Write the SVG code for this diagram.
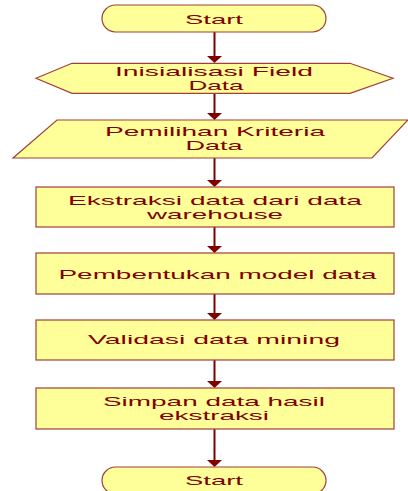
<svg xmlns="http://www.w3.org/2000/svg" width="408" height="491" viewBox="0 0 408 491">
<defs>
<style>
.shape{fill:#FFFF99;stroke:#A0403A;stroke-width:1.2}
.t{font-family:"Liberation Sans",Arial,sans-serif;font-size:13.5px;fill:#800000;text-anchor:middle}
.conn line{stroke:#800000;stroke-width:2}
.conn polygon{fill:#800000}
</style>
</defs>
<rect width="408" height="491" fill="#fff"/>
<g class="conn">
<line x1="214.5" y1="32" x2="214.5" y2="57"/><polygon points="207,56 222,56 214.5,63"/>
<line x1="214.5" y1="93" x2="214.5" y2="114"/><polygon points="207,113 222,113 214.5,120"/>
<line x1="214.5" y1="158" x2="214.5" y2="181"/><polygon points="207,180 222,180 214.5,187"/>
<line x1="214.5" y1="227" x2="214.5" y2="247"/><polygon points="207,246 222,246 214.5,253"/>
<line x1="214.5" y1="294" x2="214.5" y2="314"/><polygon points="207,313 222,313 214.5,320"/>
<line x1="214.5" y1="360" x2="214.5" y2="382"/><polygon points="207,381 222,381 214.5,388"/>
<line x1="214.5" y1="429" x2="214.5" y2="461"/><polygon points="207,460 222,460 214.5,467"/>
</g>
<g id="start">
<rect class="shape" x="102" y="5" width="224" height="27" rx="13.5"/>
<text class="t" x="214" y="23.5" textLength="58" lengthAdjust="spacingAndGlyphs">Start</text>
</g>
<g id="init">
<polygon class="shape" points="36,78.3 72,63.3 350,63.3 393,78.3 350,93.3 72,93.3"/>
<text class="t" x="214" y="76.4" textLength="198" lengthAdjust="spacingAndGlyphs">Inisialisasi Field</text>
<text class="t" x="216" y="90.3" textLength="55" lengthAdjust="spacingAndGlyphs">Data</text>
</g>
<g id="pemilihan">
<polygon class="shape" points="57,120 408,120 372,158 13,158"/>
<text class="t" x="215" y="136.4" textLength="220" lengthAdjust="spacingAndGlyphs">Pemilihan Kriteria</text>
<text class="t" x="214" y="150.3" textLength="57" lengthAdjust="spacingAndGlyphs">Data</text>
</g>
<g id="ekstraksi">
<rect class="shape" x="36" y="187" width="358" height="40"/>
<text class="t" x="215" y="204.7" textLength="294" lengthAdjust="spacingAndGlyphs">Ekstraksi data dari data</text>
<text class="t" x="215" y="218.6" textLength="136" lengthAdjust="spacingAndGlyphs">warehouse</text>
</g>
<g id="model">
<rect class="shape" x="36" y="253" width="358" height="41"/>
<text class="t" x="217.5" y="279" textLength="318" lengthAdjust="spacingAndGlyphs">Pembentukan model data</text>
</g>
<g id="validasi">
<rect class="shape" x="36" y="320" width="358" height="40"/>
<text class="t" x="214" y="344.3" textLength="252" lengthAdjust="spacingAndGlyphs">Validasi data mining</text>
</g>
<g id="simpan">
<rect class="shape" x="36" y="388" width="358" height="41"/>
<text class="t" x="214" y="405.7" textLength="222" lengthAdjust="spacingAndGlyphs">Simpan data hasil</text>
<text class="t" x="214" y="420.3" textLength="110" lengthAdjust="spacingAndGlyphs">ekstraksi</text>
</g>
<g id="end">
<rect class="shape" x="102" y="467" width="224" height="27" rx="13.5"/>
<text class="t" x="214" y="485" textLength="58" lengthAdjust="spacingAndGlyphs">Start</text>
</g>
</svg>
